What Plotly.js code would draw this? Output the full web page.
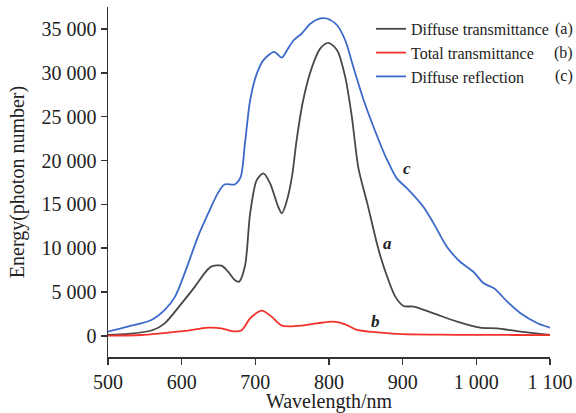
<!DOCTYPE html>
<html>
<head>
<meta charset="utf-8">
<script src="https://cdn.plot.ly/plotly-3.0.1.min.js"></script>
<style>html,body{margin:0;padding:0;background:#fff;}#chart{width:576px;height:413px;}</style>
</head>
<body>
<div id="chart"></div>
<script>
// Diffuse transmittance (a)
const wlA = [500, 527, 561, 577, 600, 618, 631, 640, 654, 663, 672, 678, 686, 693, 702, 711, 720, 731, 736, 743, 750, 756, 765, 777, 788, 799, 811, 822, 831, 840, 852, 865, 870, 879, 890, 901, 915, 942, 974, 1005, 1028, 1060, 1100];
const valA = [110, 230, 680, 1440, 3720, 5620, 7140, 7900, 8010, 7330, 6380, 6190, 8000, 14000, 17800, 18530, 17390, 14730, 13970, 15490, 18300, 22300, 26900, 30670, 32760, 33410, 32580, 29530, 24980, 19100, 15110, 10560, 9030, 6750, 4480, 3420, 3340, 2580, 1630, 950, 870, 490, 110];

// Total transmittance (b)
const wlB = [500, 545, 572, 604, 636, 654, 668, 681, 693, 709, 722, 736, 756, 784, 806, 822, 838, 870, 900, 950, 1000, 1050, 1100];
const valB = [40, 110, 300, 570, 950, 870, 550, 620, 2010, 2890, 2200, 1180, 1140, 1440, 1630, 1330, 680, 380, 200, 150, 120, 110, 100];

// Diffuse reflection (c)
const wlC = [500, 527, 559, 577, 591, 609, 622, 636, 649, 658, 672, 680, 686, 693, 702, 711, 725, 729, 736, 743, 752, 763, 775, 788, 797, 811, 822, 833, 847, 870, 879, 892, 906, 928, 942, 960, 978, 996, 1010, 1024, 1042, 1060, 1083, 1100];
const valC = [490, 1060, 1820, 2960, 4480, 8280, 11300, 13970, 16250, 17270, 17270, 18100, 22000, 26900, 29900, 31440, 32380, 32200, 31740, 32580, 33710, 34480, 35620, 36190, 36190, 35420, 33710, 30670, 26900, 21800, 20050, 17960, 16820, 14730, 12830, 10170, 8460, 7320, 6000, 5430, 3910, 2580, 1450, 950];

const names = ['Diffuse transmittance', 'Total transmittance', 'Diffuse reflection'];
const tags = ['(a)', '(b)', '(c)'];
const curveLabels = ['a', 'b', 'c'];
const curveLabelX = [879, 863, 906];
const curveLabelY = [10590, 1600, 19130];

const serif = 'Liberation Serif, Times New Roman, serif';
const colors = ['#4a4744', '#f2312b', '#3b6ac8'];

const traces = [
  {x: wlA, y: valA, name: names[0]},
  {x: wlB, y: valB, name: names[1]},
  {x: wlC, y: valC, name: names[2]}
].map((t, i) => Object.assign(t, {
  type: 'scatter', mode: 'lines',
  line: {color: colors[i], width: 1.8, shape: 'spline', smoothing: 0.8}
}));

const annotations = [];
for (let i = 0; i < 3; i++) {
  annotations.push({
    x: curveLabelX[i], y: curveLabelY[i], xref: 'x', yref: 'y',
    text: '<b><i>' + curveLabels[i] + '</i></b>', showarrow: false,
    font: {family: serif, size: 17, color: '#222'}
  });
}

const layout = {
  width: 576, height: 413,
  margin: {l: 108, r: 26, t: 7, b: 56, autoexpand: false},
  paper_bgcolor: '#fff', plot_bgcolor: '#fff',
  separators: '. ',
  font: {family: serif, color: '#222'},
  showlegend: true,
  legend: {
    x: 0.595, y: 0.986, xanchor: 'left', yanchor: 'top',
    font: {family: serif, size: 16, color: '#222'},
    bgcolor: 'rgba(0,0,0,0)', tracegroupgap: 0
  },
  xaxis: {
    range: [500, 1100], tick0: 500, dtick: 100, tickformat: ',d', tickangle: 0,
    automargin: true,
    showgrid: false, zeroline: false, showline: true, linecolor: '#333', linewidth: 1.5,
    ticks: 'outside', ticklen: 6, tickwidth: 1.5, tickcolor: '#333',
    tickfont: {family: serif, size: 20, color: '#222'},
    title: {text: 'Wavelength/nm', font: {family: serif, size: 20, color: '#222'}, standoff: 11}
  },
  yaxis: {
    range: [-2400, 37500], tick0: 0, dtick: 5000, tickformat: ',d',
    automargin: true,
    showgrid: false, zeroline: false, showline: true, linecolor: '#333', linewidth: 1.5,
    ticks: 'outside', ticklen: 6, tickwidth: 1.5, tickcolor: '#333',
    tickfont: {family: serif, size: 20, color: '#222'},
    title: {text: 'Energy(photon number)', font: {family: serif, size: 20, color: '#222'}, standoff: 11}
  },
  annotations: annotations
};

Plotly.newPlot('chart', traces, layout, {displayModeBar: false, staticPlot: true}).then(() => {
  const rows = document.querySelectorAll('.legend .traces');
  const extra = [];
  const cont = document.getElementById('chart').getBoundingClientRect();
  rows.forEach((r, i) => {
    const bb = r.getBoundingClientRect();
    extra.push({
      xref: 'paper', yref: 'paper',
      x: (575 - 108) / 442, xanchor: 'right',
      y: (357 - (bb.top + bb.height / 2 - cont.top)) / 350, yanchor: 'middle',
      text: tags[i], showarrow: false,
      font: {family: serif, size: 16, color: '#222'}
    });
  });
  Plotly.relayout('chart', {annotations: annotations.concat(extra)});
});
</script>
</body>
</html>
